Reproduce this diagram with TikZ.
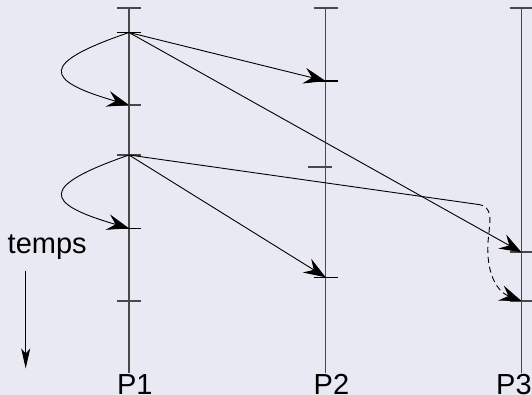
\documentclass[tikz,border=0pt]{standalone}
\usepackage{fontspec}
\setmainfont{Liberation Sans}
\usetikzlibrary{arrows.meta}
\definecolor{bgc}{RGB}{233,233,243}
\definecolor{procc}{RGB}{72,72,72}
\tikzset{
  proc/.style={draw=procc, line width=1.4pt},
  tickg/.style={draw=procc, line width=1.7pt},
  tickb/.style={draw=black, line width=1.1pt},
  msg/.style={draw=black, line width=0.9pt, -{Stealth[length=22pt,width=16pt,inset=8pt]}},
  lbl/.style={inner sep=0pt, anchor=base west, font=\fontsize{29}{34}\selectfont}
}
\begin{document}
\begin{tikzpicture}[x=1pt,y=-1pt]
\useasboundingbox[fill=bgc] (0,0) rectangle (532,395);
% labels
\node[lbl] (l1) at (116.8,394.5) {P1};
\node[lbl] (l2) at (313.5,394.5) {P2};
\node[lbl] (l3) at (496,394.5) {P3};
\node[lbl] (temps) at (7.5,253.5) {temps};
% process lines
\coordinate (t1) at (129,8);
\coordinate (t2) at (325.7,8);
\coordinate (t3) at (521.5,8);
\coordinate (b1) at (129,373);
\coordinate (b2) at (325.7,373);
\coordinate (b3) at (521.5,373);
\draw[proc] (t1) -- (b1);
\draw[proc] (t2) -- (b2);
\draw[proc] (t3) -- (b3);
% events
\coordinate (p1a) at (129,32.5);
\coordinate (p1b) at (129,105);
\coordinate (p1c) at (129,155);
\coordinate (p1d) at (129,228.3);
\coordinate (p1e) at (129,301);
\coordinate (p2a) at (325.7,81);
\coordinate (p2b) at (325.7,167);
\coordinate (p2c) at (325.7,277.3);
\coordinate (p3a) at (521.5,252.3);
\coordinate (p3b) at (521.5,301);
% ticks
\draw[tickg] ([xshift=-12pt]t1) -- ([xshift=12pt]t1);
\draw[tickg] ([xshift=-12pt]t2) -- ([xshift=12pt]t2);
\draw[tickg] ([xshift=-12pt]t3) -- ([xshift=12pt]t3);
\draw[tickb] ([xshift=-12pt]p1a) -- ([xshift=12pt]p1a);
\draw[tickg] ([xshift=-12pt]p1b) -- ([xshift=12pt]p1b);
\draw[tickg] ([xshift=-12pt]p1c) -- ([xshift=12pt]p1c);
\draw[tickb] ([xshift=-12pt]p1d) -- ([xshift=12pt]p1d);
\draw[tickg] ([xshift=-12pt]p1e) -- ([xshift=12pt]p1e);
\draw[tickb] ([xshift=-12pt]p2a) -- ([xshift=12pt]p2a);
\draw[tickg] ([xshift=-18pt]p2b) -- ([xshift=6pt]p2b);
\draw[tickb] ([xshift=-12pt]p2c) -- ([xshift=12pt]p2c);
\draw[tickg] ([xshift=-12pt]p3a) -- ([xshift=12pt]p3a);
\draw[tickg] ([xshift=-12pt]p3b) -- ([xshift=12pt]p3b);
% messages
\draw[msg] (p1a) -- (p2a);
\draw[msg] (p1a) -- (p3a);
\draw[msg] (p1a) .. controls (40,63) and (42,80) .. (p1b);
\draw[msg] (p1c) -- (p2c);
\draw[msg] (p1c) .. controls (40,186) and (42,203) .. (p1d);
\coordinate (m) at (477,204.3);
\draw[black, line width=0.9pt] (p1c) -- (m);
\draw[msg, dashed, dash pattern=on 6pt off 4pt] (m) .. controls (494,206) and (490,220) .. (488,242)
  .. controls (486,275) and (498,292) .. (p3b);
% temps arrow
\coordinate (ta) at (25.7,271);
\coordinate (tb) at (25.7,368.5);
\draw[black, line width=1.2pt, -{Stealth[length=20pt,width=9pt,inset=5pt]}] (ta) -- (tb);
\end{tikzpicture}
\end{document}
